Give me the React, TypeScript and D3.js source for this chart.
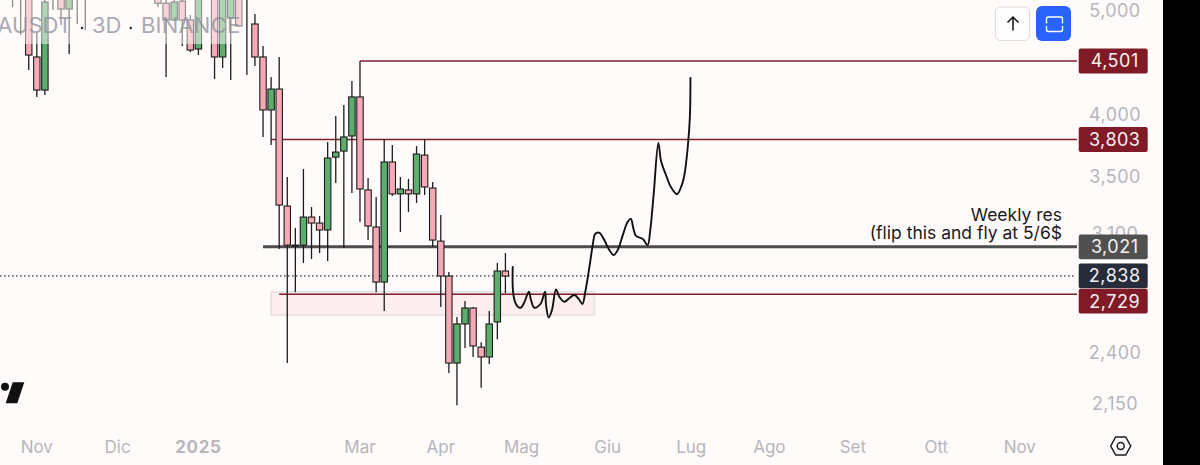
import React from "react";
import * as d3 from "d3";

const parseDate = d3.utcParse("%Y-%m-%d");
const day = (s: string) => parseDate(s) as Date;

// 3D candles. Those above the top edge are only known by their lower part
const candleDates = [
  "2024-10-24", "2024-10-27", "2024-10-30", "2024-11-02", "2024-11-05", "2024-11-08", "2024-11-11", "2024-11-14", "2024-11-17", "2024-11-20",
  "2024-12-17", "2024-12-20", "2024-12-23", "2024-12-26", "2024-12-29", "2025-01-01", "2025-01-07", "2025-01-10", "2025-01-13", "2025-01-16",
  "2025-01-19", "2025-01-22", "2025-01-25", "2025-01-28", "2025-01-31", "2025-02-03", "2025-02-06", "2025-02-09", "2025-02-12", "2025-02-15",
  "2025-02-18", "2025-02-21", "2025-02-24", "2025-02-27", "2025-03-02", "2025-03-05", "2025-03-08", "2025-03-11", "2025-03-14", "2025-03-17",
  "2025-03-20", "2025-03-23", "2025-03-26", "2025-03-29", "2025-04-01", "2025-04-04", "2025-04-07", "2025-04-10", "2025-04-13", "2025-04-16",
  "2025-04-19", "2025-04-22", "2025-04-25",
];
const opens = [
  5250, 5250, 5250, 4540, 4229, 5250, 5220, 5032, 5250, 5250,
  5200, 5095, 4915, 5118, 4915, 4618, 5250, 4540, 4936, 5220,
  5180, 4873, 4540, 4052, 4238, 3297, 3032, 3032, 3220, 3179,
  3132, 3662, 3710, 3832, 4167, 3413, 3152, 2801, 3624, 3384,
  3413, 3384, 3678, 3427, 3058, 2837, 2354, 2560, 2649, 2436,
  2385, 2571, 2868,
];
const highs = [
  5300, 5300, 5300, 4780, 5200, 5300, 5300, 5300, 5300, 5300,
  5300, 5200, 5200, 5200, 4968, 5300, 5300, 5300, 5300, 5300,
  5300, 4979, 4648, 4349, 4540, 3509, 3146, 3570, 3290, 3227,
  3783, 3999, 4096, 4312, 4501, 3502, 3362, 3803, 3758, 3509,
  3495, 3750, 3803, 3472, 3234, 2862, 2599, 2689, 2655, 2462,
  2632, 2918, 2981,
];
const lows = [
  5053, 4759, 4415, 4167, 4184, 5021, 4863, 4568, 4873, 4811,
  5053, 4349, 4905, 4648, 4588, 4559, 4330, 4434, 4321, 4842,
  4368, 4453, 3824, 3758, 3006, 2354, 2741, 2918, 2943, 2981,
  2931, 3465, 3013, 3391, 3186, 3065, 2741, 2632, 3369, 3119,
  3255, 3319, 3376, 3019, 2655, 2304, 2150, 2431, 2385, 2232,
  2349, 2478, 2735,
];
const closes = [
  5180, 5180, 4559, 4229, 5108, 5180, 5032, 5220, 5180, 5180,
  5095, 4915, 5108, 4915, 4608, 5220, 4540, 5250, 5250, 4852,
  5200, 4540, 4052, 4238, 3304, 3032, 3026, 3220, 3179, 3132,
  3655, 3702, 3824, 4167, 3420, 3159, 2801, 3624, 3384, 3420,
  3384, 3686, 3435, 3065, 2837, 2354, 2560, 2649, 2442, 2385,
  2560, 2868, 2837,
];

// horizontal levels drawn on the chart
const levelPrices = [4501, 3803, 3021, 2729];
const levelStarts = ["2025-03-02", "2025-01-28", "2025-01-25", "2025-01-31"];

const zonePrices = [2741, 2610];
const zoneDates = ["2025-01-28", "2025-05-28"];

// the hand drawn projection: days after 1 Jan 2025, and price
const sketchDays = [
  116.7, 116.8, 117.6, 118.7, 119.8, 120.9, 122.7, 123.5, 124.7, 127, 128.7, 129.1, 130.1, 131.3, 132.8, 134, 135.9, 137.7,
  139.6, 141.5, 142.6, 143.7, 145.2, 146.6, 147.3, 148.9, 150.7, 152.6, 154.2, 155.7, 157.6, 159.4, 160.6, 161.5, 162.5, 165,
  166.8, 167.8, 169.1, 170.8, 171.8, 173.7, 175.5, 177.7, 179.2, 180.4, 181.7, 182.5, 182.7,
];
const sketchPrices = [
  2893, 2753, 2683, 2655, 2652, 2678, 2743, 2695, 2651, 2672, 2743, 2666, 2596, 2638, 2757, 2714, 2685, 2705,
  2724, 2695, 2672, 2747, 2895, 3050, 3105, 3113, 3065, 3000, 2968, 3000, 3098, 3188, 3207, 3143, 3092, 3072,
  3032, 3132, 3390, 3775, 3631, 3519, 3433, 3382, 3433, 3519, 3743, 3994, 4341,
];

const yTicks = [5000, 4000, 3500, 3100, 2400, 2150];
const xTickDates = [
  "2024-11-02", "2024-12-02", "2025-01-01", "2025-03-02", "2025-04-01", "2025-05-01",
  "2025-06-02", "2025-07-03", "2025-08-01", "2025-09-01", "2025-10-02", "2025-11-02",
];
const xTickLabels = ["Nov", "Dic", "2025", "Mar", "Apr", "Mag", "Giu", "Lug", "Ago", "Set", "Ott", "Nov"];

const priceTags = [4501, 3803, 3021, 2838, 2729];
const priceTagColors = ["#7f1a26", "#7f1a26", "#505050", "#262c3a", "#7f1a26"];
const priceTagShift = [0, 0, 0, 0, 7]; // 2,729 is pushed down by the 2,838 tag

const width = 1200;
const height = 465;
const fontFamily = "Inter, 'Noto Sans', sans-serif";

const x = d3.scaleUtc().domain([day("2024-10-21"), day("2025-11-02")]).range([4.5, 1019.8]);
const y = d3.scaleLog().domain([2150, 5000]).range([405.3, 12]);

const sketchLine = d3
  .line<number>()
  .x((d) => x(d3.utcHour.offset(day("2025-01-01"), Math.round(d * 24))))
  .y((_, i) => y(sketchPrices[i]))
  .curve(d3.curveCatmullRom.alpha(0.5));

const App: React.FC = () => {
  const bodyWidth = 6.4;

  return (
    <svg
      width={width}
      height={height}
      viewBox={`0 0 ${width} ${height}`}
      style={{ position: "absolute", top: 0, left: 0, display: "block" }}
    >
      <rect width={width} height={height} fill="#fffbfa" />

      {/* support zone */}
      <rect
        x={x(day(zoneDates[0]))}
        y={y(zonePrices[0])}
        width={x(day(zoneDates[1])) - x(day(zoneDates[0]))}
        height={y(zonePrices[1]) - y(zonePrices[0])}
        fill="#fdeeef"
        stroke="#e8e4e4"
        strokeWidth={2}
      />

      {/* last price */}
      <line x1={0} x2={1075} y1={y(2838)} y2={y(2838)} stroke="#33333a" strokeWidth={1.2} strokeDasharray="1.5 2.5" />

      {levelPrices.map((p, i) => (
        <line
          key={p}
          x1={x(day(levelStarts[i]))}
          x2={1077}
          y1={y(p)}
          y2={y(p)}
          stroke={p === 3021 ? "#4d4d4d" : "#7f1f2e"}
          strokeWidth={p === 3021 ? 3 : 1.5}
        />
      ))}

      {candleDates.map((d, i) => {
        const cx = x(day(d));
        const top = y(Math.max(opens[i], closes[i]));
        const bottom = y(Math.min(opens[i], closes[i]));
        const up = closes[i] >= opens[i];
        return (
          <g key={d}>
            <line x1={cx} x2={cx} y1={y(highs[i])} y2={y(lows[i])} stroke="#1c1c1c" strokeWidth={1.3} />
            <rect
              x={cx - bodyWidth / 2}
              y={top}
              width={bodyWidth}
              height={Math.max(bottom - top, 1)}
              fill={up ? "#5dae6e" : "#f5a9b4"}
              stroke="#1c1c1c"
              strokeWidth={1.1}
            />
          </g>
        );
      })}

      <path d={sketchLine(sketchDays) ?? ""} fill="none" stroke="#111" strokeWidth={1.9} strokeLinejoin="round" strokeLinecap="round" />

      {/* symbol watermark, it washes out the candles below it */}
      <rect x={0} y={0} width={245} height={44} fill="#fffbfa" opacity={0.5} />
      <g fontFamily={fontFamily} fontSize={22} fill="#8f8f9a" opacity={0.75}>
        <text x={72} y={33} textAnchor="end">AUSDT</text>
        <text x={92} y={33}>3D</text>
        <text x={141} y={33} letterSpacing={0.2}>BINANCE</text>
      </g>
      <circle cx={82} cy={28} r={1.2} fill="#222" />
      <circle cx={130.7} cy={28} r={1.2} fill="#222" />

      {/* annotation */}
      <g fontFamily={fontFamily} fontSize={17.5} fill="#1a1a1a" textAnchor="end">
        <text x={1062} y={221}>Weekly res</text>
        <text x={1062} y={239}>(flip this and fly at 5/6$</text>
      </g>

      {/* price axis */}
      <g fontFamily={fontFamily} fontSize={18} fill="#b6b6bc" textAnchor="middle" letterSpacing={0.4}>
        {yTicks.map((t) => (
          <text key={t} x={1115} y={y(t) - 1.5} dy="0.36em">
            {d3.format(",")(t)}
          </text>
        ))}
      </g>

      {priceTags.map((p, i) => (
        <g key={p} transform={`translate(1078.7, ${y(p) + priceTagShift[i]})`}>
          <rect x={0} y={-12.4} width={69} height={24.8} rx={2} fill={priceTagColors[i]} />
          <text
            x={36}
            dy="0.36em"
            textAnchor="middle"
            fontFamily={fontFamily}
            fontSize={18}
            letterSpacing={0.5}
            fill="#f6f0f0"
          >
            {d3.format(",")(p)}
          </text>
        </g>
      ))}

      {/* time axis */}
      <g fontFamily={fontFamily} fontSize={17} fill="#b6b6bc" textAnchor="middle">
        {xTickDates.map((d, i) => (
          <text
            key={d}
            x={x(day(d))}
            y={453}
            fontWeight={xTickLabels[i] === "2025" ? 700 : 400}
            letterSpacing={xTickLabels[i] === "2025" ? 0.6 : 0}
          >
            {xTickLabels[i]}
          </text>
        ))}
      </g>

      {/* toolbar buttons */}
      <rect x={995.5} y={7} width={34} height={33.5} rx={5} fill="#fffefe" stroke="#dcdad9" strokeWidth={1} />
      <path d="M1013 30.5V17M1007.5 22.5L1013 17L1018.5 22.5" fill="none" stroke="#111" strokeWidth={1.5} />
      <rect x={1036} y={6} width={35} height={35} rx={6} fill="#2962ff" />
      <g fill="none" stroke="#fff" strokeWidth={1.4}>
        <path d="M1046.5 23.5V18.5Q1046.5 17 1048 17H1061Q1062.5 17 1062.5 18.5V23.5" />
        <path d="M1046.5 26V30Q1046.5 31.5 1048 31.5H1061Q1062.5 31.5 1062.5 30V26" />
      </g>

      {/* tradingview mark */}
      <circle cx={5} cy={386.7} r={4} fill="#111" />
      <path d="M12.7 382.3H24.3L17.3 403.3H5.7Z" fill="#111" />

      {/* settings hexagon */}
      <path
        d="M1110.7 446L1115.7 437H1125.7L1130.7 446L1125.7 455H1115.7Z"
        fill="none"
        stroke="#1c1c1c"
        strokeWidth={1.5}
      />
      <circle cx={1120.7} cy={446} r={3.5} fill="none" stroke="#1c1c1c" strokeWidth={1.5} />

      {/* the screenshot ends in a black band */}
      <rect x={1163} y={0} width={37} height={height} fill="#000" />
    </svg>
  );
};

export default App;
